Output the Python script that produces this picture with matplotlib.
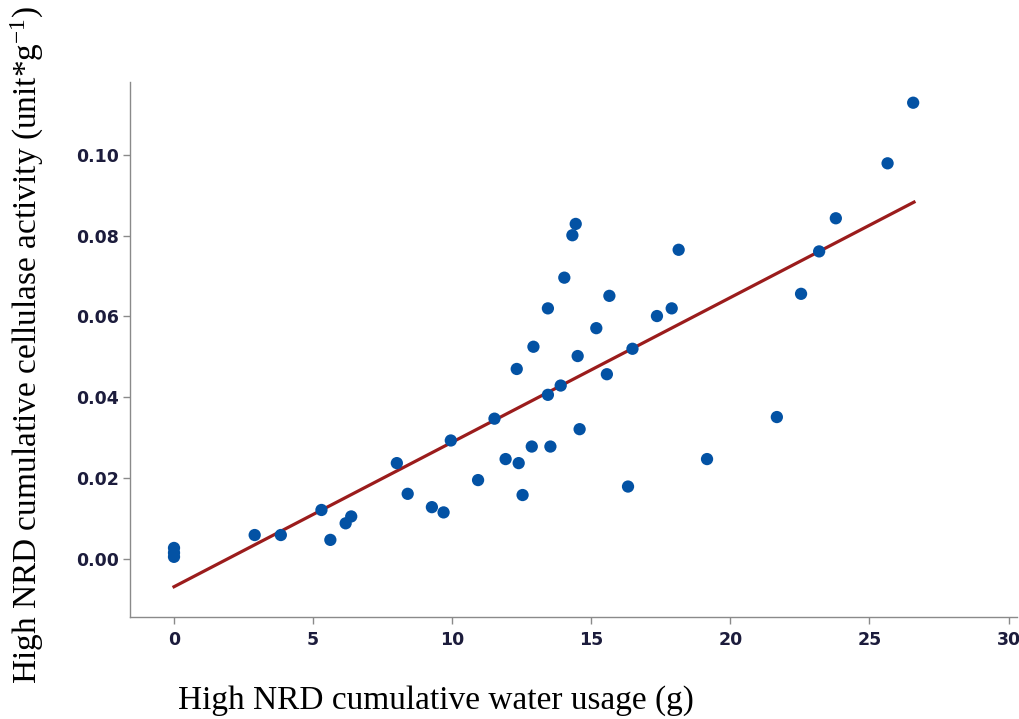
import matplotlib.pyplot as plt

plt.rcParams['mathtext.fontset'] = 'custom'
plt.rcParams['mathtext.rm'] = 'Liberation Serif'

# cumulative water usage (g) and cumulative cellulase activity (unit*g-1)
water_usage = [
    0.0, 0.0, 0.0, 2.9, 3.84, 5.3, 5.62, 6.17, 6.37, 8.01, 8.4, 9.27, 9.69,
    9.95, 10.93, 11.52, 11.92, 12.39, 12.53, 12.86, 13.53, 12.32, 12.92,
    13.44, 13.44, 13.9, 14.03, 14.32, 14.44, 14.51, 14.58, 15.18, 15.56,
    15.65, 16.32, 16.48, 17.36, 17.89, 18.14, 19.16, 21.67, 22.54, 23.19,
    23.79, 25.65, 26.57,
]
cellulase_activity = [
    0.0027, 0.0015, 0.0005, 0.0059, 0.0059, 0.0121, 0.0047, 0.0088, 0.0105,
    0.0237, 0.0161, 0.0128, 0.0115, 0.0293, 0.0195, 0.0347, 0.0247, 0.0237,
    0.0158, 0.0278, 0.0278, 0.0470, 0.0525, 0.0620, 0.0406, 0.0429, 0.0696,
    0.0801, 0.0829, 0.0502, 0.0321, 0.0571, 0.0457, 0.0651, 0.0179, 0.0520,
    0.0601, 0.0620, 0.0765, 0.0247, 0.0351, 0.0656, 0.0761, 0.0843, 0.0979,
    0.1129,
]

# fitted trend line end points
fit_x = [0.0, 26.6]
fit_y = [-0.0069, 0.0883]

x_ticks = [0, 5, 10, 15, 20, 25, 30]
y_ticks = [0.00, 0.02, 0.04, 0.06, 0.08, 0.10]

fig = plt.figure(figsize=(10.2, 7.19), dpi=100)
ax = fig.add_axes([0.1275, 0.1418, 0.8695, 0.744])

ax.plot(fit_x, fit_y, color='#9b1c1c', linewidth=2.3, zorder=2)
ax.scatter(water_usage, cellulase_activity, s=78, color='#0352a4',
           edgecolors='none', zorder=3)

ax.set_xlim(-1.58, 30.3)
ax.set_ylim(-0.0144, 0.118)
ax.set_xticks(x_ticks)
ax.set_yticks(y_ticks)
ax.set_yticklabels([f"{v:.2f}" for v in y_ticks])

for side in ['top', 'right']:
    ax.spines[side].set_visible(False)
for side in ['left', 'bottom']:
    ax.spines[side].set_color('#8a8a8a')
    ax.spines[side].set_linewidth(1.0)

ax.tick_params(axis='both', direction='out', length=5, width=1,
               color='#8a8a8a', labelcolor='#1c1c3c')
ax.tick_params(axis='y', pad=3)
ax.tick_params(axis='x', pad=5)
for label in ax.get_xticklabels() + ax.get_yticklabels():
    label.set_fontweight('bold')
    label.set_fontsize(12.5)
    label.set_family('DejaVu Sans')

fig.text(0.427, 0.025, "High NRD cumulative water usage (g)",
         family='Liberation Serif', fontsize=24, ha='center', va='center')
fig.text(0.027, 0.52,
         r"High NRD cumulative cellulase activity (unit*g$\mathregular{^{-1}}$)",
         family='Liberation Serif', fontsize=24, ha='center', va='center',
         rotation=90)

fig.savefig("out.png", dpi=100)
